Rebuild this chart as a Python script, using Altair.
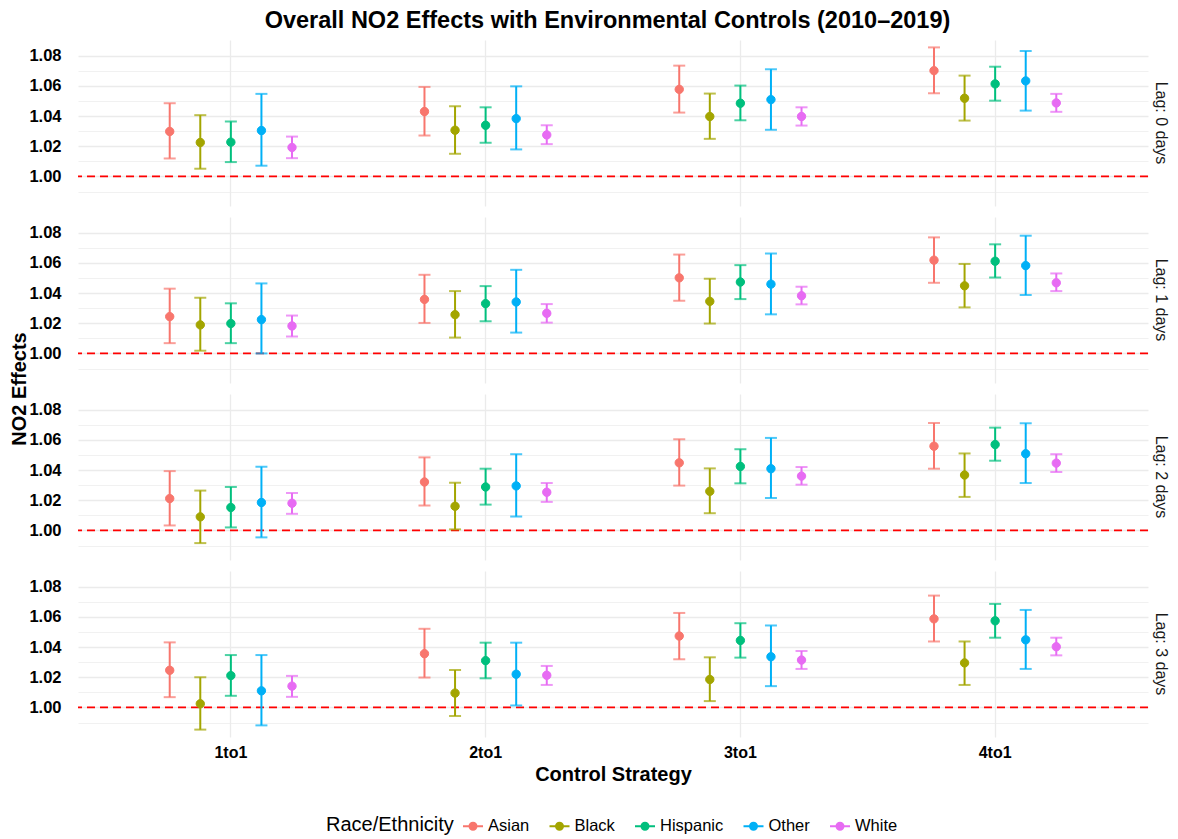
import altair as alt
import pandas as pd

strategies = ["1to1", "2to1", "3to1", "4to1"]
groups = ["Asian", "Black", "Hispanic", "Other", "White"]
lags = ["Lag: 0 days", "Lag: 1 days", "Lag: 2 days", "Lag: 3 days"]
colors = ["#F8766D", "#A3A500", "#00BF7D", "#00B0F6", "#E76BF3"]

# values ordered strategy-major, group-minor (Asian, Black, Hispanic, Other, White)
est_lag0 = [1.0298, 1.0225, 1.0227, 1.0304, 1.0192, 1.0430, 1.0306, 1.0339, 1.0383, 1.0275,
            1.0577, 1.0397, 1.0485, 1.0509, 1.0397, 1.0701, 1.0518, 1.0613, 1.0633, 1.0487]
lo_lag0 = [1.0119, 1.0051, 1.0095, 1.0071, 1.0121, 1.0271, 1.0150, 1.0223, 1.0179, 1.0214,
           1.0423, 1.0249, 1.0372, 1.0309, 1.0337, 1.0551, 1.0370, 1.0502, 1.0436, 1.0428]
hi_lag0 = [1.0485, 1.0406, 1.0364, 1.0547, 1.0264, 1.0593, 1.0465, 1.0458, 1.0597, 1.0339,
           1.0734, 1.0549, 1.0602, 1.0710, 1.0458, 1.0855, 1.0668, 1.0727, 1.0831, 1.0547]

est_lag1 = [1.0244, 1.0189, 1.0198, 1.0224, 1.0182, 1.0358, 1.0257, 1.0330, 1.0341, 1.0266,
            1.0501, 1.0345, 1.0473, 1.0459, 1.0382, 1.0618, 1.0448, 1.0611, 1.0582, 1.0468]
lo_lag1 = [1.0068, 1.0018, 1.0068, 1.0000, 1.0112, 1.0202, 1.0105, 1.0213, 1.0138, 1.0204,
           1.0349, 1.0198, 1.0360, 1.0259, 1.0325, 1.0468, 1.0305, 1.0503, 1.0387, 1.0413]
hi_lag1 = [1.0429, 1.0369, 1.0332, 1.0464, 1.0251, 1.0521, 1.0413, 1.0446, 1.0554, 1.0327,
           1.0655, 1.0495, 1.0585, 1.0662, 1.0442, 1.0769, 1.0593, 1.0723, 1.0780, 1.0530]

est_lag2 = [1.0211, 1.0090, 1.0152, 1.0185, 1.0180, 1.0321, 1.0160, 1.0288, 1.0295, 1.0253,
            1.0448, 1.0259, 1.0424, 1.0409, 1.0360, 1.0558, 1.0367, 1.0569, 1.0508, 1.0446]
lo_lag2 = [1.0033, 0.9916, 1.0020, 0.9954, 1.0110, 1.0165, 1.0007, 1.0171, 1.0092, 1.0189,
           1.0297, 1.0114, 1.0312, 1.0215, 1.0303, 1.0409, 1.0222, 1.0462, 1.0314, 1.0387]
hi_lag2 = [1.0393, 1.0264, 1.0288, 1.0422, 1.0248, 1.0484, 1.0316, 1.0409, 1.0505, 1.0314,
           1.0604, 1.0411, 1.0538, 1.0613, 1.0420, 1.0712, 1.0510, 1.0681, 1.0710, 1.0505]

est_lag3 = [1.0246, 1.0024, 1.0211, 1.0110, 1.0141, 1.0356, 1.0095, 1.0310, 1.0220, 1.0213,
            1.0473, 1.0185, 1.0444, 1.0336, 1.0314, 1.0587, 1.0295, 1.0574, 1.0448, 1.0402]
lo_lag3 = [1.0068, 0.9853, 1.0077, 0.9881, 1.0070, 1.0198, 0.9943, 1.0193, 1.0013, 1.0149,
           1.0319, 1.0042, 1.0330, 1.0141, 1.0255, 1.0437, 1.0149, 1.0462, 1.0255, 1.0345]
hi_lag3 = [1.0431, 1.0200, 1.0347, 1.0347, 1.0209, 1.0521, 1.0248, 1.0429, 1.0429, 1.0275,
           1.0626, 1.0332, 1.0558, 1.0543, 1.0374, 1.0741, 1.0437, 1.0686, 1.0646, 1.0462]

y_ticks = [0.99, 1.00, 1.01, 1.02, 1.03, 1.04, 1.05, 1.06, 1.07, 1.08]

rows = []
for lag, est, lo, hi in zip(
    lags,
    [est_lag0, est_lag1, est_lag2, est_lag3],
    [lo_lag0, lo_lag1, lo_lag2, lo_lag3],
    [hi_lag0, hi_lag1, hi_lag2, hi_lag3],
):
    k = 0
    for s in strategies:
        for g in groups:
            rows.append(dict(lag=lag, strategy=s, group=g, est=est[k], lo=lo[k], hi=hi[k]))
            k += 1
df = pd.DataFrame(rows)

FONT = "Liberation Sans"

x_enc = alt.X(
    "strategy:N",
    sort=strategies,
    scale=alt.Scale(paddingInner=0.4, paddingOuter=0.3),
    axis=alt.Axis(
        title="Control Strategy",
        labelAngle=0,
        bandPosition=0.5,
        grid=True,
        gridColor="#EBEBEB",
        gridWidth=1.3,
        ticks=False,
        domain=False,
        labelFontWeight="bold",
        labelFontSize=16,
        labelColor="black",
        labelPadding=7,
        titleFontSize=20,
        titleFontWeight="bold",
        titleColor="black",
        titlePadding=4,
    ),
)
xoff_enc = alt.XOffset("group:N", sort=groups, scale=alt.Scale(paddingInner=0, paddingOuter=0))
y_scale = alt.Scale(domain=[0.9804, 1.0904], nice=False, zero=False)
y_axis = alt.Axis(
    title=None,
    values=y_ticks,
    labelExpr="round(datum.value*100) % 2 == 0 ? format(datum.value, '.2f') : ''",
    grid=True,
    gridColor="#EBEBEB",
    gridWidth={"condition": {"test": "round(datum.value*100) % 2 == 0", "value": 1.3}, "value": 0.7},
    ticks=False,
    domain=False,
    labelFontWeight="bold",
    labelFontSize=16.5,
    labelColor="black",
    labelPadding=16,
)
legend = alt.Legend(
    title="Race/Ethnicity",
    orient="none",
    legendX=248,
    legendY=775,
    direction="horizontal",
    titleOrient="left",
    titleFontSize=20,
    titleFontWeight="normal",
    titleColor="black",
    titlePadding=8,
    labelFontSize=16.5,
    labelColor="black",
    symbolType="M-1,0L1,0M0.35,0A0.35,0.35,0,1,1,-0.35,0A0.35,0.35,0,1,1,0.35,0Z",
    symbolSize=400,
    symbolStrokeWidth=2,
    symbolOpacity=1,
    columnPadding=15.5,
)
color_enc = alt.Color("group:N", sort=groups, scale=alt.Scale(domain=groups, range=colors), legend=legend)
stroke_enc = alt.Stroke("group:N", sort=groups, scale=alt.Scale(domain=groups, range=colors), legend=legend)

ref = alt.Chart().transform_aggregate(n="count()", groupby=["lag"]).mark_rule(
    color="#FF0000", strokeDash=[8, 5], strokeWidth=1.6
).encode(y=alt.YDatum(1.0, scale=y_scale, axis=y_axis))

bars = alt.Chart().mark_rule(strokeWidth=2).encode(
    x=x_enc, xOffset=xoff_enc,
    y=alt.Y("lo:Q", scale=y_scale, axis=y_axis), y2="hi:Q",
    color=color_enc,
)
cap_lo = alt.Chart().mark_tick(thickness=2, size=12).encode(
    x=x_enc, xOffset=xoff_enc, y=alt.Y("lo:Q", scale=y_scale, axis=y_axis), color=color_enc
)
cap_hi = alt.Chart().mark_tick(thickness=2, size=12).encode(
    x=x_enc, xOffset=xoff_enc, y=alt.Y("hi:Q", scale=y_scale, axis=y_axis), color=color_enc
)
pts = alt.Chart().mark_point(filled=True, size=70, opacity=1, strokeWidth=1).encode(
    x=x_enc, xOffset=xoff_enc, y=alt.Y("est:Q", scale=y_scale, axis=y_axis),
    color=color_enc, stroke=stroke_enc,
)

layered = alt.layer(ref, bars, cap_lo, cap_hi, pts, data=df).properties(width=1070, height=166)

chart = layered.facet(
    row=alt.Row(
        "lag:N",
        sort=lags,
        header=alt.Header(
            title="NO2 Effects",
            titleOrient="left",
            titleAngle=-90,
            titleFontSize=20,
            titleFontWeight="bold",
            titleColor="black",
            titlePadding=-32,
            labelOrient="right",
            labelAngle=90,
            labelFontSize=16,
            labelFontWeight="normal",
            labelColor="#1A1A1A",
            labelPadding=4,
        ),
    ),
    spacing=11,
).properties(
    title=alt.TitleParams(
        "Overall NO2 Effects with Environmental Controls (2010–2019)",
        fontSize=23.5, fontWeight="bold", color="black", anchor="middle", offset=8, dx=18,
    ),
    padding={"left": 9, "top": 8, "right": 5, "bottom": 5},
).configure(font=FONT).configure_view(stroke=None).configure_axis(
    labelFont=FONT, titleFont=FONT
)

chart.save("out.html", embed_options={"renderer": "svg", "actions": False})
